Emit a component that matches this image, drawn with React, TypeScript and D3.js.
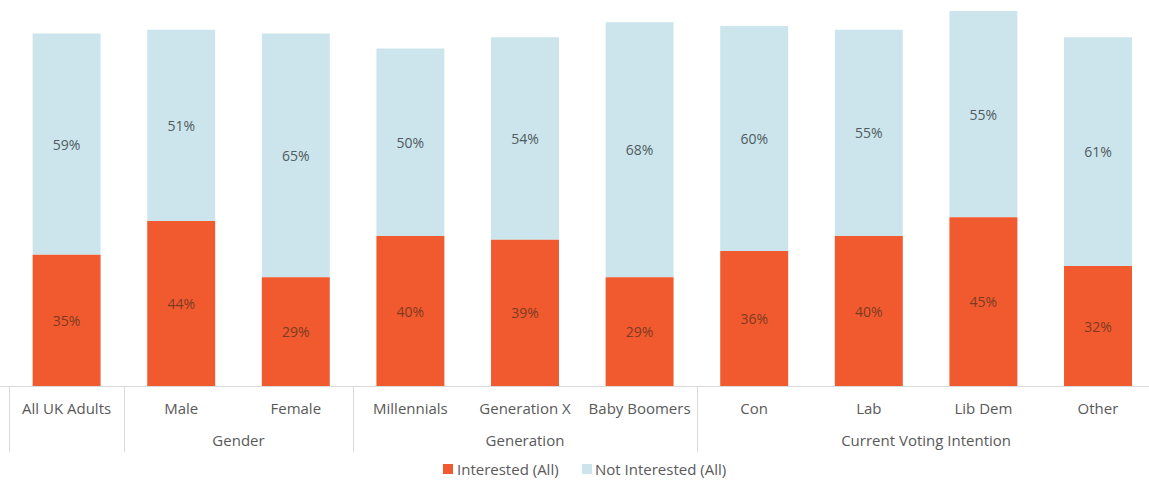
import React from "react";
import * as d3 from "d3";

const categories = ["All UK Adults", "Male", "Female", "Millennials", "Generation X", "Baby Boomers", "Con", "Lab", "Lib Dem", "Other"];
const interested = [35, 44, 29, 40, 39, 29, 36, 40, 45, 32];
const notInterested = [59, 51, 65, 50, 54, 68, 60, 55, 55, 61];
const groups = [
  { label: "", start: 0, end: 0 },
  { label: "Gender", start: 1, end: 2 },
  { label: "Generation", start: 3, end: 5 },
  { label: "Current Voting Intention", start: 6, end: 9 },
];
const seriesNames = ["Interested (All)", "Not Interested (All)"];

const W = 1149;
const H = 481;
const ORANGE = "#F15A2E";
const BLUE = "#CCE5EC";
const FONT = "'Open Sans', 'Noto Sans', sans-serif";

export default function App() {
  const x = d3
    .scaleBand<string>()
    .domain(categories)
    .range([9.3, 9.3 + 114.6 * categories.length])
    .paddingInner(0.407)
    .paddingOuter(0.2035);
  const y = d3.scaleLinear().domain([0, 100]).range([386, 11]);
  const step = x.step();
  const left0 = x.range()[0];
  const boundary = (i: number) => left0 + i * step;

  return (
    <svg width={W} height={H} style={{ position: "absolute", left: 0, top: 0, display: "block", background: "#fff" }}>
      {categories.map((c, i) => {
        const x0 = x(c)!;
        const bw = x.bandwidth();
        const yI = y(interested[i]);
        const yN = y(interested[i] + notInterested[i]);
        return (
          <g key={c}>
            <rect x={x0} y={yN} width={bw} height={yI - yN} fill={BLUE} />
            <rect x={x0} y={yI} width={bw} height={y(0) - yI} fill={ORANGE} />
            <text x={x0 + bw / 2} y={(yI + yN) / 2} textAnchor="middle" dominantBaseline="central" fontFamily={FONT} fontSize={14} fill="#4f5b60">
              {notInterested[i]}%
            </text>
            <text x={x0 + bw / 2} y={(yI + y(0)) / 2} textAnchor="middle" dominantBaseline="central" fontFamily={FONT} fontSize={14} fill="#7d3a22">
              {interested[i]}%
            </text>
            <text x={x0 + bw / 2} y={408} textAnchor="middle" dominantBaseline="central" fontFamily={FONT} fontSize={15} fill="#595959">
              {c}
            </text>
          </g>
        );
      })}
      <line x1={0} x2={W} y1={386.5} y2={386.5} stroke="#d9d9d9" strokeWidth={1} />
      {[0, 1, 3, 6, 10].map((b) => (
        <line key={b} x1={Math.round(boundary(b)) + 0.5} x2={Math.round(boundary(b)) + 0.5} y1={387} y2={452} stroke="#d9d9d9" strokeWidth={1} />
      ))}
      {groups
        .filter((g) => g.label)
        .map((g) => (
          <text
            key={g.label}
            x={(boundary(g.start) + boundary(g.end + 1)) / 2}
            y={440}
            textAnchor="middle"
            dominantBaseline="central"
            fontFamily={FONT}
            fontSize={15}
            fill="#595959"
          >
            {g.label}
          </text>
        ))}
      <g fontFamily={FONT} fontSize={15} fill="#595959">
        <rect x={443} y={464} width={10} height={10} fill={ORANGE} />
        <text x={457} y={469} dominantBaseline="central">{seriesNames[0]}</text>
        <rect x={582} y={464} width={10} height={10} fill={BLUE} />
        <text x={595} y={469} dominantBaseline="central">{seriesNames[1]}</text>
      </g>
    </svg>
  );
}
